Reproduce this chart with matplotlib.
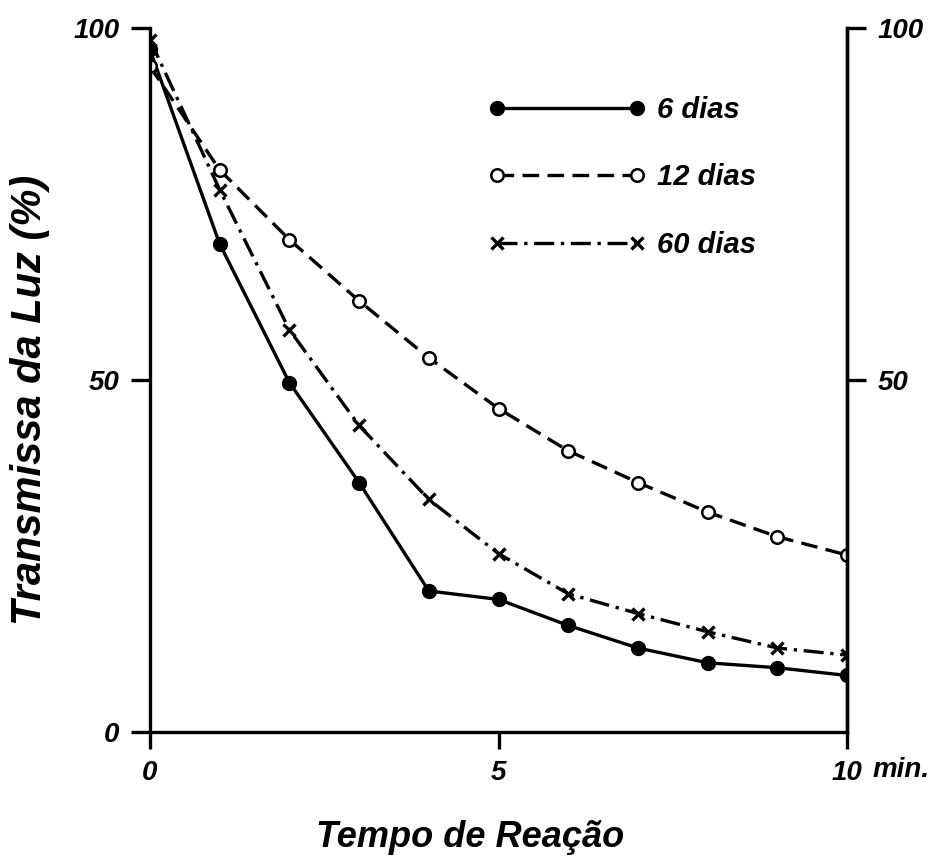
import numpy as np
import matplotlib.pyplot as plt

# minutes of reaction
tempo = [0, 1, 2, 3, 4, 5, 6, 7, 8, 9, 10]
dias6 = [96.9, 69.3, 49.6, 35.4, 20.0, 18.8, 15.1, 11.9, 9.8, 9.1, 8.0]
dias12 = [94.5, 79.8, 69.9, 61.2, 53.1, 45.9, 39.9, 35.4, 31.2, 27.7, 25.1]
dias60 = [98.3, 77.0, 57.1, 43.5, 33.0, 25.3, 19.6, 16.8, 14.2, 11.9, 10.9]
labels = ['6 dias', '12 dias', '60 dias']
yticks = [0, 50, 100]
xticks = [0, 5, 10]

plt.rcParams['font.family'] = ['Liberation Sans', 'DejaVu Sans']
fnt = dict(style='italic', weight='bold')
tsize = 20

fig = plt.figure(figsize=(9.31, 8.63), dpi=100)
ax = fig.add_axes([0.161, 0.152, 0.749, 0.816])

lw = 2.4
ax.plot(tempo, dias6, '-', color='k', lw=lw, marker='o', ms=10,
        mfc='k', mec='k', label=labels[0])
ax.plot(tempo, dias12, color='k', lw=lw, ls=(0, (5, 2.5)), marker='o', ms=9,
        mfc='white', mec='k', mew=1.8, label=labels[1])
ax.plot(tempo, dias60, color='k', lw=lw, ls=(0, (6, 2, 1, 2)), marker='x', ms=8,
        mew=2.4, label=labels[2])

ax.set_xlim(0, 10)
ax.set_ylim(0, 100)
ax.spines['top'].set_visible(False)
for s in ['left', 'right', 'bottom']:
    ax.spines[s].set_linewidth(2.4)

ax.set_xticks(xticks)
ax.set_xticklabels(['0', '5', '10'], fontsize=tsize, **fnt)
ax.set_yticks(yticks)
ax.set_yticklabels(['0', '50', '100'], fontsize=tsize, **fnt)
ax.tick_params(axis='x', direction='out', length=12, width=2.4, pad=8)
ax.tick_params(axis='y', direction='out', length=14, width=2.4, pad=8)

ax2 = ax.twinx()
ax2.set_ylim(0, 100)
ax2.spines['top'].set_visible(False)
ax2.spines['right'].set_linewidth(2.4)
ax2.set_yticks([50, 100])
ax2.set_yticklabels(['50', '100'], fontsize=tsize, **fnt)
ax2.tick_params(axis='y', direction='out', length=14, width=2.4, pad=8)

ax.text(10.36, -3.6, 'min.', fontsize=tsize, ha='left', va='top',
        clip_on=False, **fnt)

fig.text(0.032, 0.537, 'Transmissa da Luz (%)', fontsize=30, rotation=90,
         ha='center', va='center', **fnt)
fig.text(0.505, 0.019, 'Tempo de Reação', fontsize=26, ha='center', **fnt)

leg = ax.legend(loc='upper left', bbox_to_anchor=(0.447, 0.94), numpoints=2,
                handlelength=5.4, frameon=False, labelspacing=1.35,
                prop=dict(family=['Liberation Sans'], style='italic',
                          weight='bold', size=21), handletextpad=0.4)

fig.savefig('out.png', dpi=100)
